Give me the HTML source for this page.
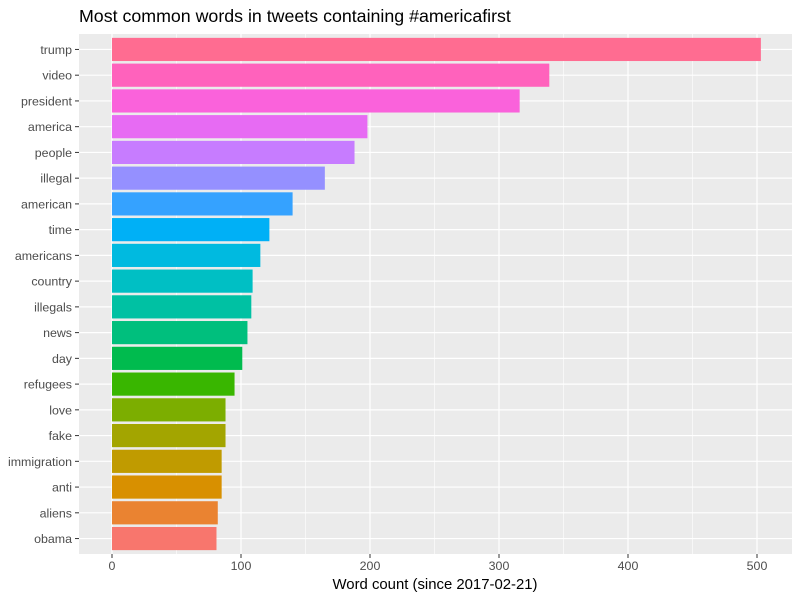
<!DOCTYPE html>
<html><head><meta charset="utf-8"><style>
body{margin:0;background:#fff;font-family:"Liberation Sans",sans-serif}
</style></head><body>
<svg id="c" width="800" height="600" xmlns="http://www.w3.org/2000/svg">
<rect width="800" height="600" fill="#fff"/>
<text x="79" y="22" font-size="17.8" fill="#000">Most common words in tweets containing #americafirst</text>
<text x="435" y="589" font-size="14.9" fill="#000" text-anchor="middle">Word count (since 2017-02-21)</text>
</svg>
<script>
const words=["trump","video","president","america","people","illegal","american","time","americans","country","illegals","news","day","refugees","love","fake","immigration","anti","aliens","obama"];
const counts=[503,339,316,198,188,165,140,122,115,109,108,105,101,95,88,88,85,85,82,81];
const colors=["#FF6C91","#FF62BC","#FA62DB","#E76BF3","#C77CFF","#9590FF","#35A2FF","#00B0F6","#00BAE0","#00BFC4","#00C1A3","#00BF7D","#00BB4E","#39B600","#7CAE00","#A3A500","#C09B00","#D89000","#EA8331","#F8766D"];
const xTicks=[0,100,200,300,400,500];
const svg=document.getElementById('c');
const NS='http://www.w3.org/2000/svg';
const L=79,R=792,T=34,B=554;
const x=v=>112+v*1.29;
const step=(B-T)/(words.length+0.2);
const y=i=>T+step*(0.6+i);
function mk(t,a){const e=document.createElementNS(NS,t);for(const k in a)e.setAttribute(k,a[k]);svg.appendChild(e);return e;}
const p=mk('rect',{x:L,y:T,width:R-L,height:B-T,fill:'#EBEBEB'});


for(let v=50;v<=550;v+=100){if(x(v)<R){const g=mk('line',{x1:x(v),x2:x(v),y1:T,y2:B,stroke:'#fff','stroke-width':0.6});

}}
xTicks.forEach(v=>{const g=mk('line',{x1:x(v),x2:x(v),y1:T,y2:B,stroke:'#fff','stroke-width':1.2});


const tk=mk('line',{x1:x(v),x2:x(v),y1:B,y2:B+4,stroke:'#333'});


const t=mk('text',{x:x(v),y:B+16,'font-size':12.4,fill:'#4D4D4D','text-anchor':'middle'});t.textContent=v;

});
words.forEach((w,i)=>{const cy=y(i);
const g=mk('line',{x1:L,x2:R,y1:cy,y2:cy,stroke:'#fff','stroke-width':1.2});


const bh=step*0.9;
const b=mk('rect',{x:x(0),y:cy-bh/2,width:x(counts[i])-x(0),height:bh,fill:colors[i]});


const tk=mk('line',{x1:L-4,x2:L,y1:cy,y2:cy,stroke:'#333'});


const t=mk('text',{x:L-7,y:cy+4.5,'font-size':12.4,fill:'#4D4D4D','text-anchor':'end'});t.textContent=w;

});
</script>
</body></html>
